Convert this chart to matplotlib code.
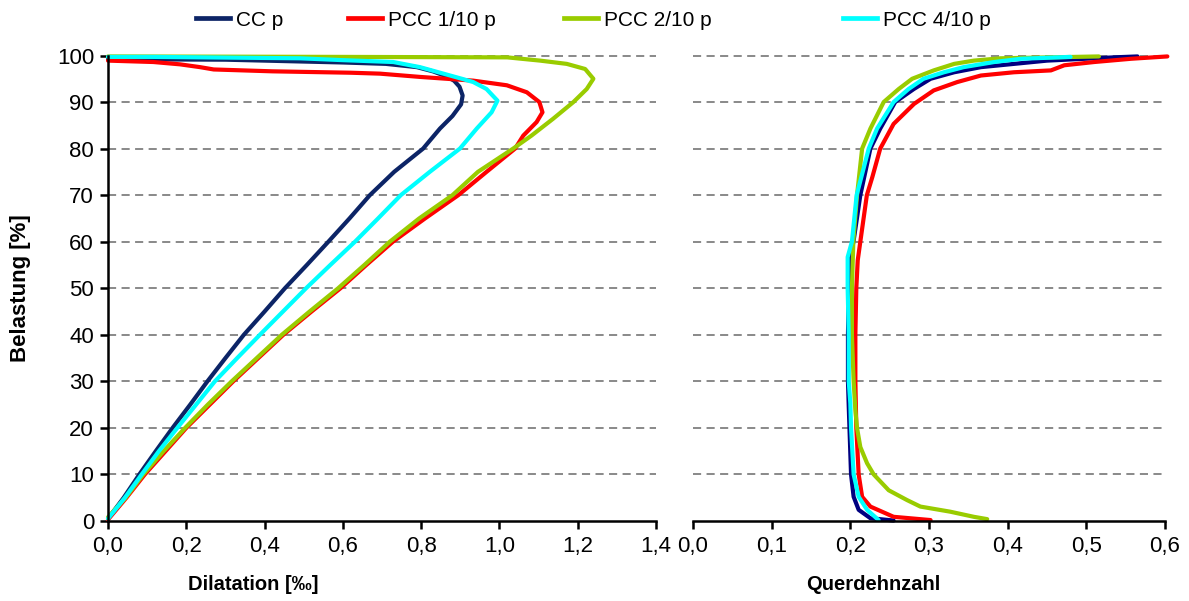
import matplotlib
matplotlib.use("Agg")
import matplotlib.pyplot as plt
from matplotlib.lines import Line2D

plt.rcParams['font.family'] = ['Liberation Sans', 'DejaVu Sans']

# ---- series names and colours -------------------------------------------
series_names = ["CC p", "PCC 1/10 p", "PCC 2/10 p", "PCC 4/10 p"]
colors_left = ["#0C2466", "#FF0000", "#99CC00", "#00FFFF"]
colors_right = ["#000080", "#FF0000", "#99CC00", "#00FFFF"]

# ---- left panel: Dilatation [‰] vs Belastung [%] ------------------------
cc_dil_x = [0.0, 0.04, 0.08, 0.122, 0.165, 0.21, 0.254, 0.30, 0.347, 0.40, 0.452,
            0.508, 0.563, 0.617, 0.669, 0.731, 0.805, 0.848, 0.88, 0.902, 0.906,
            0.898, 0.884, 0.862, 0.83, 0.789, 0.71, 0.60, 0.45, 0.30, 0.0]
cc_dil_y = [0.5, 5, 10, 15, 20, 25, 30, 35, 40, 45, 50,
            55, 60, 65, 70, 75, 80, 84.3, 87.0, 89.5, 91.4,
            93.3, 94.6, 95.6, 96.6, 97.5, 98.2, 98.5, 98.8, 99.1, 99.2]

pcc1_dil_x = [0.0, 0.047, 0.094, 0.147, 0.20, 0.26, 0.32, 0.384, 0.448, 0.52, 0.594,
              0.66, 0.728, 0.81, 0.895, 0.967, 1.04, 1.061, 1.095, 1.11, 1.102,
              1.07, 1.019, 0.933, 0.797, 0.695, 0.62, 0.42, 0.27, 0.235, 0.184,
              0.116, 0.0]
pcc1_dil_y = [0.3, 5, 10, 15, 20, 25, 30, 35, 40, 45, 50,
              55, 60, 65, 70, 75, 80, 82.8, 85.7, 87.8, 90,
              92.1, 93.6, 94.6, 95.4, 96.1, 96.3, 96.6, 97.0, 97.5, 98.1,
              98.6, 98.9]

pcc2_dil_x = [0.0, 0.045, 0.09, 0.142, 0.197, 0.255, 0.316, 0.38, 0.444, 0.515, 0.588,
              0.655, 0.72, 0.795, 0.88, 0.945, 1.035, 1.082, 1.137, 1.189, 1.223,
              1.24, 1.219, 1.172, 1.104, 1.02, 0.6, 0.0]
pcc2_dil_y = [0.8, 5, 10, 15, 20, 25, 30, 35, 40, 45, 50,
              55, 60, 65, 70, 75, 80, 82.8, 86.4, 90, 92.8,
              95, 97.1, 98.2, 98.9, 99.6, 99.7, 99.8]

pcc4_dil_x = [0.0, 0.043, 0.086, 0.13, 0.177, 0.225, 0.273, 0.33, 0.388, 0.447, 0.506,
              0.568, 0.631, 0.69, 0.748, 0.822, 0.899, 0.942, 0.98, 0.995, 0.967,
              0.933, 0.904, 0.857, 0.797, 0.729, 0.60, 0.49, 0.116, 0.0]
pcc4_dil_y = [0.5, 5, 10, 15, 20, 25, 30, 35, 40, 45, 50,
              55, 60, 65, 70, 75, 80, 84.3, 87.8, 90.3, 92.8,
              94.3, 95, 96.1, 97.5, 98.6, 99.0, 99.4, 99.7, 99.7]

# ---- right panel: Querdehnzahl vs Belastung [%] -------------------------
cc_q_x = [0.255, 0.2255, 0.2106, 0.2042, 0.2009, 0.198, 0.197, 0.197, 0.198, 0.200,
          0.204, 0.2127, 0.2255, 0.238, 0.257, 0.2807, 0.302, 0.332, 0.366, 0.408,
          0.45, 0.535, 0.565]
cc_q_y = [0.1, 0.6, 2.4, 5.2, 10, 24.5, 30, 40, 50, 57,
          60, 70, 80, 84.3, 90, 92.8, 95, 96.4, 97.5, 98.2,
          98.9, 99.6, 99.8]

pcc1_q_x = [0.302, 0.255, 0.2255, 0.215, 0.2106, 0.2076, 0.2064, 0.2064, 0.2076, 0.2094,
            0.2127, 0.221, 0.228, 0.238, 0.255, 0.281, 0.306, 0.336, 0.366, 0.408,
            0.455, 0.472, 0.51, 0.557, 0.603]
pcc1_q_y = [0.2, 0.9, 3.1, 5.2, 10, 20, 30, 40, 50, 56,
            60, 70, 73.9, 80, 85.3, 89.6, 92.5, 94.3, 95.7, 96.4,
            96.8, 97.9, 98.6, 99.3, 99.8]

pcc2_q_x = [0.374, 0.357, 0.327, 0.289, 0.272, 0.2488, 0.2297, 0.2213, 0.2127, 0.2085,
            0.2064, 0.2042, 0.202, 0.202, 0.2038, 0.2085, 0.215, 0.2255, 0.2424, 0.2615,
            0.2786, 0.306, 0.332, 0.357, 0.391, 0.516]
pcc2_q_y = [0.4, 0.9, 2.0, 3.1, 4.5, 6.6, 10, 12.4, 15.9, 20,
            23.8, 30, 40, 50, 60, 70, 80, 84.3, 90, 92.8,
            95, 96.8, 98.2, 98.9, 99.4, 99.8]

pcc4_q_x = [0.236, 0.2213, 0.2106, 0.2042, 0.2009, 0.200, 0.198, 0.198, 0.1966, 0.1966,
            0.202, 0.208, 0.2234, 0.234, 0.255, 0.274, 0.293, 0.319, 0.344, 0.383,
            0.417, 0.48]
pcc4_q_y = [0.2, 2.4, 5.2, 10, 20, 25.3, 30, 40, 50, 56.7,
            60, 70, 80, 84.3, 90, 92.8, 95, 96.4, 97.5, 98.6,
            99.3, 99.7]

# ---- axis ticks ---------------------------------------------------------
y_ticks = [0, 10, 20, 30, 40, 50, 60, 70, 80, 90, 100]
left_x_ticks = [0.0, 0.2, 0.4, 0.6, 0.8, 1.0, 1.2, 1.4]
left_x_labels = ["0,0", "0,2", "0,4", "0,6", "0,8", "1,0", "1,2", "1,4"]
right_x_ticks = [0.0, 0.1, 0.2, 0.3, 0.4, 0.5, 0.6]
right_x_labels = ["0,0", "0,1", "0,2", "0,3", "0,4", "0,5", "0,6"]

left_data = [(cc_dil_x, cc_dil_y), (pcc1_dil_x, pcc1_dil_y),
             (pcc2_dil_x, pcc2_dil_y), (pcc4_dil_x, pcc4_dil_y)]
right_data = [(cc_q_x, cc_q_y), (pcc1_q_x, pcc1_q_y),
              (pcc2_q_x, pcc2_q_y), (pcc4_q_x, pcc4_q_y)]

LW = 3.0
FS = 16

fig = plt.figure(figsize=(11.89, 6.01), dpi=100)
ax1 = fig.add_axes([108 / 1189, 80 / 601, 548 / 1189, 465.5 / 601])
ax2 = fig.add_axes([693 / 1189, 80 / 601, 472 / 1189, 465.5 / 601])


def grid(ax, xmax):
    for yv in y_ticks[1:]:
        ax.plot([0, xmax], [yv, yv], color="#808080", lw=1.3,
                ls=(0, (4.5, 3)), zorder=1, clip_on=False)


grid(ax1, 1.4)
grid(ax2, 0.6)

for (xs, ys), c in zip(left_data, colors_left):
    ax1.plot(xs, ys, color=c, lw=LW, solid_joinstyle="round",
             solid_capstyle="round", zorder=3, clip_on=False)
for (xs, ys), c in zip(right_data, colors_right):
    ax2.plot(xs, ys, color=c, lw=LW, solid_joinstyle="round",
             solid_capstyle="round", zorder=3, clip_on=False)

ax1.set_xlim(0, 1.4)
ax1.set_ylim(0, 100)
ax2.set_xlim(0, 0.6)
ax2.set_ylim(0, 100)

for ax in (ax1, ax2):
    for s in ("top", "right"):
        ax.spines[s].set_visible(False)
    ax.spines["bottom"].set_linewidth(1.8)
    ax.spines["bottom"].set_zorder(4)
    ax.tick_params(axis="x", direction="out", length=6, width=1.8, pad=5,
                   labelsize=FS)

ax1.spines["left"].set_linewidth(1.8)
ax1.spines["left"].set_zorder(4)
ax1.set_yticks(y_ticks)
ax1.set_yticklabels([str(v) for v in y_ticks])
ax1.tick_params(axis="y", direction="out", length=6, width=1.8, pad=4, labelsize=FS)
ax1.set_xticks(left_x_ticks)
ax1.set_xticklabels(left_x_labels)

ax2.spines["left"].set_visible(False)
ax2.set_yticks([])
ax2.set_xticks(right_x_ticks)
ax2.set_xticklabels(right_x_labels)

ax1.set_xlabel("Dilatation [‰]", fontsize=14.5, fontweight="bold")
ax1.xaxis.set_label_coords(0.265, -0.115)
ax1.set_ylabel("Belastung [%]", fontsize=16, fontweight="bold")
ax1.yaxis.set_label_coords(-0.14, 0.5)
ax2.set_xlabel("Querdehnzahl", fontsize=14.5, fontweight="bold")
ax2.xaxis.set_label_coords(0.381, -0.115)

# legend entries placed along the top edge
legend_x = [200, 352, 568, 847]
for name, c, lx in zip(series_names, colors_left, legend_x):
    h = Line2D([], [], color=c, lw=3.4)
    fig.legend([h], [name], loc="center left",
               bbox_to_anchor=(lx / 1189 - 0.0035, 1 - 20 / 601),
               frameon=False, fontsize=15, handlelength=1.65,
               handletextpad=0.3, borderaxespad=0, borderpad=0)

fig.savefig("out.png", dpi=100)
